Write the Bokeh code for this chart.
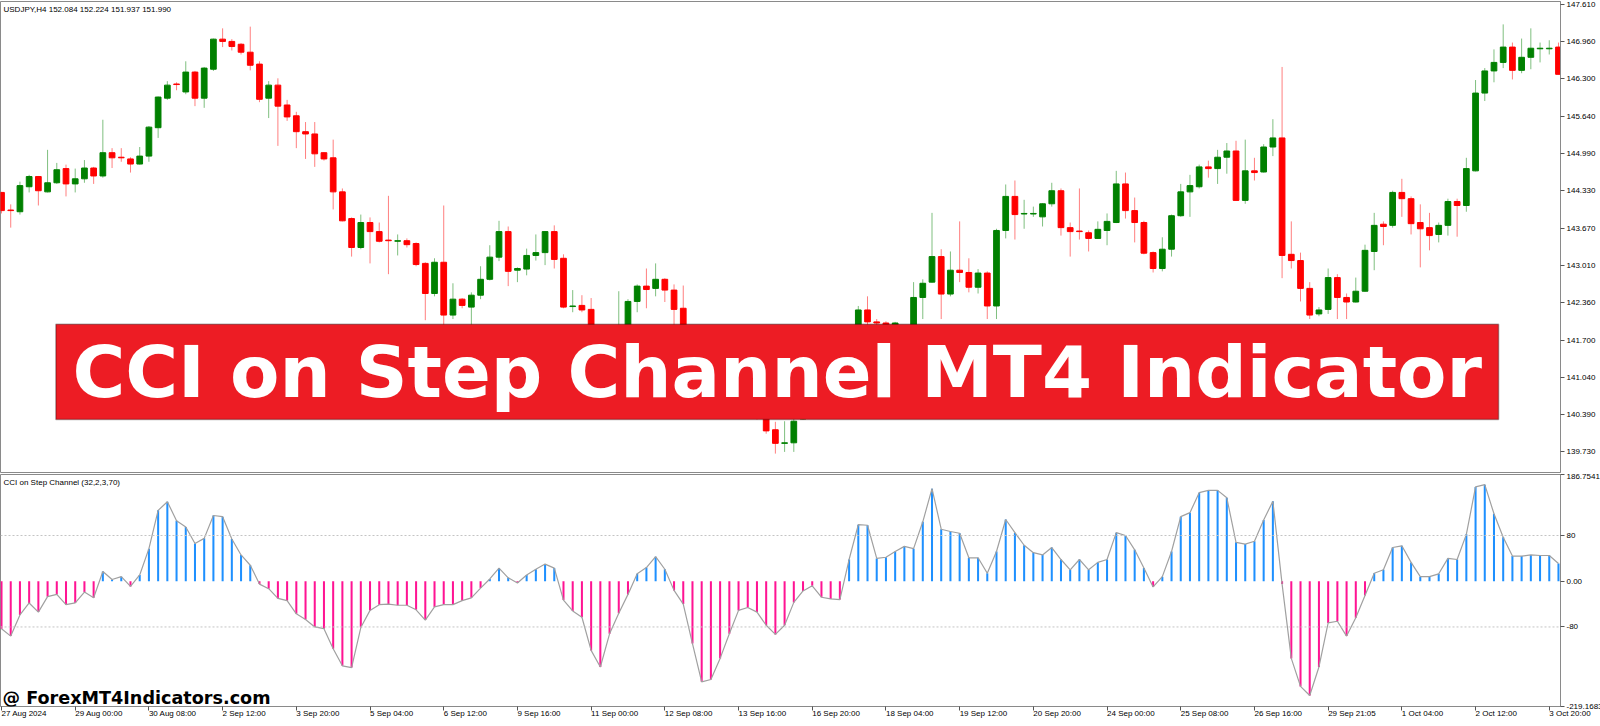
from bokeh.embed import file_html
from bokeh.layouts import column
from bokeh.models import (BoxAnnotation, ColumnDataSource, FixedTicker, Label,
                          NumeralTickFormatter, Range1d, Span)
from bokeh.plotting import figure
from bokeh.resources import INLINE

# USDJPY H4 candles, one per bar index
opens = [144.30, 143.99, 143.96, 144.40, 144.58, 144.31, 144.47, 144.72, 144.45, 144.54,
         144.73, 144.59, 145.00, 144.92, 144.89, 144.80, 144.94, 145.44, 145.96, 146.21,
         146.07, 146.42, 145.96, 146.47, 147.00, 146.96, 146.91, 146.77, 146.56, 145.96,
         146.19, 145.84, 145.65, 145.37, 145.33, 145.00, 144.91, 144.31, 143.84, 143.33,
         143.77, 143.61, 143.46, 143.44, 143.45, 143.40, 143.05, 142.52, 143.07, 142.14,
         142.42, 142.28, 142.49, 142.77, 143.16, 143.61, 142.93, 142.95, 143.19, 143.24,
         143.61, 143.14, 142.29, 142.31, 142.24, 141.63, 141.33, 141.54, 141.89, 142.38,
         142.65, 142.61, 142.77, 142.58, 142.26, 141.81, 141.54, 141.16, 140.81, 141.02,
         140.70, 140.53, 140.67, 140.46, 140.12, 139.88, 139.89, 140.31, 140.70, 141.10,
         140.93, 141.37, 141.72, 141.89, 142.23, 142.02, 142.00, 141.86, 141.82, 141.93,
         142.45, 142.72, 143.17, 142.51, 142.93, 142.89, 142.63, 142.88, 142.30, 143.63,
         144.23, 143.92, 143.92, 143.87, 144.10, 144.33, 143.68, 143.62, 143.59, 143.49,
         143.63, 143.77, 144.45, 143.98, 143.77, 143.24, 142.96, 143.30, 143.89, 144.31,
         144.40, 144.75, 144.72, 144.92, 145.03, 144.16, 144.68, 144.66, 145.10, 145.26,
         143.21, 143.10, 142.61, 142.16, 142.24, 142.80, 142.45, 142.37, 142.56, 143.26,
         143.74, 143.72, 144.30, 144.19, 143.77, 143.68, 143.56, 143.72, 144.14, 144.07,
         144.68, 146.05, 146.44, 146.59, 146.86, 146.45, 146.68, 146.83, 146.83, 146.86]
highs = [144.31, 144.09, 144.49, 144.61, 144.59, 145.05, 144.82, 144.79, 144.72, 144.87,
         144.75, 145.58, 145.08, 145.08, 144.92, 145.10, 145.47, 145.99, 146.26, 146.24,
         146.61, 146.44, 146.51, 147.01, 147.19, 147.00, 146.93, 147.22, 146.61, 146.26,
         146.31, 145.93, 145.72, 145.54, 145.54, 145.01, 145.23, 144.37, 143.86, 143.91,
         143.86, 143.77, 144.24, 143.56, 143.49, 143.42, 143.07, 143.14, 144.07, 142.70,
         142.44, 142.54, 143.00, 143.37, 143.80, 143.70, 142.98, 143.31, 143.56, 143.62,
         143.72, 143.21, 142.58, 142.49, 142.44, 141.72, 141.81, 142.56, 142.42, 142.68,
         142.96, 143.05, 142.79, 142.68, 142.66, 141.89, 141.63, 141.26, 141.10, 141.09,
         140.81, 140.74, 140.70, 140.49, 140.26, 140.27, 140.35, 140.75, 141.19, 141.23,
         141.45, 141.86, 141.93, 142.30, 142.47, 142.07, 142.03, 142.02, 141.95, 142.72,
         142.77, 143.94, 143.30, 143.26, 143.79, 143.14, 142.95, 142.91, 143.66, 144.44,
         144.51, 144.17, 144.05, 144.11, 144.47, 144.37, 143.77, 144.37, 143.63, 143.79,
         143.93, 144.68, 144.65, 144.21, 143.80, 143.26, 143.51, 143.91, 144.45, 144.61,
         144.79, 144.86, 145.05, 145.17, 145.21, 145.23, 144.91, 145.15, 145.59, 146.51,
         143.79, 143.24, 142.72, 142.28, 142.96, 142.86, 142.52, 142.80, 143.38, 143.94,
         143.79, 144.33, 144.54, 144.23, 144.09, 143.94, 143.77, 144.19, 144.19, 144.91,
         146.28, 146.49, 146.82, 147.26, 146.94, 147.01, 147.19, 146.94, 146.98, 146.94]
lows = [143.93, 143.68, 143.91, 144.30, 144.07, 144.30, 144.45, 144.23, 144.30, 144.47,
        144.45, 144.56, 144.73, 144.84, 144.65, 144.79, 144.84, 145.26, 145.93, 146.10,
        146.03, 145.82, 145.79, 146.44, 146.86, 146.80, 146.73, 146.45, 145.89, 145.61,
        145.12, 145.56, 145.08, 144.89, 144.75, 144.86, 144.00, 143.79, 143.17, 143.30,
        143.05, 143.42, 142.86, 143.19, 143.33, 143.00, 142.05, 142.47, 141.95, 142.07,
        142.26, 141.95, 142.42, 142.75, 143.09, 142.65, 142.72, 142.84, 143.10, 143.02,
        142.96, 142.26, 142.19, 142.19, 141.54, 141.19, 141.26, 141.45, 141.82, 142.19,
        142.26, 142.47, 142.37, 141.95, 141.72, 141.40, 141.05, 140.70, 140.67, 140.58,
        140.42, 140.40, 140.30, 140.05, 139.70, 139.73, 139.73, 140.30, 140.63, 140.84,
        140.88, 141.28, 141.63, 141.81, 141.93, 141.89, 141.72, 141.75, 141.72, 141.86,
        142.07, 142.71, 142.07, 142.47, 142.72, 142.54, 142.52, 142.07, 142.07, 143.49,
        143.47, 143.66, 143.87, 143.70, 144.05, 143.54, 143.17, 143.47, 143.26, 143.48,
        143.37, 143.76, 143.84, 143.42, 143.21, 142.89, 142.91, 143.17, 143.87, 143.87,
        144.37, 144.56, 144.45, 144.63, 144.15, 144.10, 144.51, 144.65, 144.94, 142.79,
        142.96, 142.38, 142.07, 142.12, 142.16, 142.07, 142.07, 142.36, 142.55, 142.93,
        143.37, 143.68, 143.87, 143.56, 142.98, 143.28, 143.42, 143.54, 143.52, 143.96,
        144.67, 145.91, 146.24, 146.49, 146.29, 146.40, 146.47, 146.59, 146.73, 146.38]
closes = [143.98, 143.98, 144.42, 144.58, 144.33, 144.47, 144.70, 144.45, 144.54, 144.73,
          144.59, 145.00, 144.91, 144.91, 144.80, 144.94, 145.45, 145.98, 146.19, 146.20,
          146.42, 145.96, 146.49, 147.00, 146.96, 146.87, 146.77, 146.54, 145.94, 146.19,
          145.82, 145.63, 145.37, 145.33, 144.98, 144.89, 144.31, 143.80, 143.33, 143.77,
          143.61, 143.44, 143.45, 143.45, 143.38, 143.03, 142.52, 143.07, 142.14, 142.42,
          142.31, 142.49, 142.77, 143.16, 143.61, 142.91, 142.96, 143.19, 143.24, 143.61,
          143.12, 142.28, 142.30, 142.23, 141.63, 141.33, 141.72, 141.93, 142.38, 142.65,
          142.59, 142.77, 142.58, 142.24, 141.81, 141.54, 141.16, 140.81, 141.02, 140.70,
          140.53, 140.67, 140.35, 140.10, 139.88, 139.89, 140.27, 140.70, 141.10, 140.93,
          141.37, 141.72, 141.89, 142.23, 142.02, 142.00, 141.81, 142.00, 141.93, 142.45,
          142.70, 143.17, 142.51, 142.93, 142.89, 142.63, 142.88, 142.30, 143.63, 144.23,
          143.91, 143.93, 143.93, 144.10, 144.33, 143.68, 143.61, 143.61, 143.49, 143.65,
          143.79, 144.45, 143.98, 143.77, 143.23, 142.96, 143.30, 143.89, 144.31, 144.42,
          144.75, 144.72, 144.92, 145.03, 144.16, 144.68, 144.65, 145.10, 145.26, 143.19,
          143.10, 142.61, 142.14, 142.23, 142.80, 142.45, 142.37, 142.56, 143.28, 143.72,
          143.70, 144.30, 144.19, 143.75, 143.66, 143.54, 143.72, 144.14, 144.07, 144.72,
          146.05, 146.44, 146.59, 146.86, 146.45, 146.68, 146.84, 146.84, 146.84, 146.38]

# CCI on Step Channel (32,2,3,70)
cci = [-83, -96, -59, -38, -54, -27, -23, -41, -38, -19,
       -29, 17, 3, 8, -9, 11, 57, 124, 139, 106,
       95, 66, 75, 115, 113, 74, 46, 28, -5, -13,
       -30, -34, -57, -67, -80, -83, -118, -148, -151, -81,
       -51, -41, -40, -42, -42, -50, -68, -45, -41, -41,
       -34, -29, -12, 4, 23, 6, -3, 11, 21, 30,
       23, -33, -52, -63, -121, -150, -92, -56, -23, 13,
       24, 43, 21, -16, -40, -109, -176, -172, -135, -92,
       -51, -46, -54, -77, -93, -77, -37, -17, -8, -28,
       -31, -32, 38, 99, 98, 40, 42, 52, 61, 57,
       104, 162, 91, 87, 84, 41, 41, 14, 52, 108,
       85, 63, 50, 46, 59, 38, 20, 38, 20, 33,
       38, 85, 80, 55, 23, -10, 8, 52, 113, 120,
       155, 159, 159, 146, 68, 65, 70, 107, 140, -5,
       -135, -184, -200, -150, -73, -70, -96, -64, -25, 14,
       20, 59, 62, 33, 8, 8, 13, 40, 38, 82,
       165, 169, 118, 77, 44, 44, 46, 45, 45, 31]

price_ticks = [147.610, 146.960, 146.300, 145.640, 144.990, 144.330, 143.670,
               143.010, 142.360, 141.700, 141.040, 140.390, 139.730]
cci_ticks = [186.7541, 80, 0, -80, -219.1683]
cci_tick_labels = ["186.7541", "80", "0.00", "-80", "-219.1683"]
cci_levels = [80, -80]

time_ticks = list(range(0, 170, 8))
time_labels = ["27 Aug 2024", "29 Aug 00:00", "30 Aug 08:00", "2 Sep 12:00", "3 Sep 20:00",
               "5 Sep 04:00", "6 Sep 12:00", "9 Sep 16:00", "11 Sep 00:00", "12 Sep 08:00",
               "13 Sep 16:00", "16 Sep 20:00", "18 Sep 04:00", "19 Sep 12:00", "20 Sep 20:00",
               "24 Sep 00:00", "25 Sep 08:00", "26 Sep 16:00", "29 Sep 21:05", "1 Oct 04:00",
               "2 Oct 12:00", "3 Oct 20:00"]

FONT = "Liberation Sans"
BIG_FONT = "DejaVu Sans"
UP, DOWN = "#008000", "#FF0000"
CCI_UP, CCI_DOWN = "#1E90FF", "#FF1493"
FRAME_W = 1560

idx = list(range(len(opens)))
candles = ColumnDataSource(dict(
    x=idx, open=opens, high=highs, low=lows, close=closes,
    top=[max(o, c) for o, c in zip(opens, closes)],
    bottom=[min(o, c) for o, c in zip(opens, closes)],
    color=[UP if c >= o else DOWN for o, c in zip(opens, closes)],
))

x_range = Range1d(-0.11, 169.22)

# ---- price pane
p1 = figure(frame_width=FRAME_W, frame_height=471, x_range=x_range,
            y_range=Range1d(139.367, 147.663), toolbar_location=None,
            output_backend="svg", y_axis_location="right", x_axis_location=None,
            min_border_left=0, min_border_right=0, min_border_top=1, min_border_bottom=1)
p1.grid.visible = False
p1.outline_line_color = "#8a8a8a"
p1.segment(x0="x", y0="low", x1="x", y1="high", source=candles,
           line_color="color", line_alpha=0.5, line_width=1)
p1.vbar(x="x", top="top", bottom="bottom", width=0.62, source=candles,
        fill_color="color", line_color="color", line_width=1)

ya = p1.yaxis[0]
ya.ticker = FixedTicker(ticks=price_ticks)
ya.formatter = NumeralTickFormatter(format="0.000")

p1.add_layout(Label(x=-0.11, y=147.663, x_offset=3, y_offset=-3,
                    text="USDJPY,H4  152.084 152.224 151.937 151.990",
                    text_font=FONT, text_font_size="8px", text_baseline="top",
                    text_color="black"))

# banner
p1.add_layout(BoxAnnotation(left=5.9, right=162.5, top=141.98, bottom=140.30,
                            fill_color="#ED1C24", fill_alpha=1.0,
                            line_color="black", line_width=1.5))
p1.add_layout(Label(x=84.2, y=141.13, text="CCI on Step Channel MT4 Indicator",
                    text_font=BIG_FONT, text_font_size="72px", text_font_style="bold",
                    text_color="white", text_align="center", text_baseline="middle"))

# ---- CCI pane
cci_src = ColumnDataSource(dict(
    x=idx, v=cci,
    top=[max(v, 0) for v in cci], bottom=[min(v, 0) for v in cci],
    color=[CCI_UP if v >= 0 else CCI_DOWN for v in cci],
))
p2 = figure(frame_width=FRAME_W, frame_height=232, x_range=x_range,
            y_range=Range1d(-219.1683, 186.7541), toolbar_location=None,
            output_backend="svg", y_axis_location="right",
            min_border_left=0, min_border_right=0, min_border_top=1, min_border_bottom=16)
p2.grid.visible = False
p2.outline_line_color = "#8a8a8a"
for lv in cci_levels:
    p2.add_layout(Span(location=lv, dimension="width", line_color="#c4c4c4",
                       line_dash="2 2", line_width=1))
p2.vbar(x="x", top="top", bottom="bottom", width=0.22, source=cci_src,
        fill_color="color", line_color=None)
p2.line(x="x", y="v", source=cci_src, line_color="#a0a0a0", line_width=1.2)

ya2 = p2.yaxis[0]
ya2.ticker = FixedTicker(ticks=cci_ticks)
ya2.major_label_overrides = dict(zip(cci_ticks, cci_tick_labels))

# time scale: labels start at their tick, as in MT4
xa = p2.xaxis[0]
xa.ticker = FixedTicker(ticks=time_ticks)
xa.major_label_overrides = dict(zip(time_ticks, time_labels))
xa.major_label_orientation = -0.0001
xa.major_tick_out = 4
xa.major_tick_in = 0
xa.minor_tick_line_color = None
xa.axis_line_color = "#8a8a8a"
xa.major_tick_line_color = "#555555"
xa.major_label_standoff = 3
xa.major_label_text_font = FONT
xa.major_label_text_font_size = "8px"
xa.major_label_text_color = "black"

p2.add_layout(Label(x=-0.11, y=186.7541, x_offset=3, y_offset=-3,
                    text="CCI on Step Channel (32,2,3,70)",
                    text_font=FONT, text_font_size="8px", text_baseline="top",
                    text_color="black"))
p2.add_layout(Label(x=-0.11, y=-205.0, x_offset=2, text="@ ForexMT4Indicators.com",
                    text_font=BIG_FONT, text_font_size="17.6px", text_font_style="bold",
                    text_color="black", text_baseline="middle"))

for ax in (ya, ya2):
    ax.major_tick_out = 4
    ax.major_tick_in = 0
    ax.minor_tick_line_color = None
    ax.axis_line_color = "#8a8a8a"
    ax.major_tick_line_color = "#555555"
    ax.major_label_standoff = 2
    ax.major_label_text_font = FONT
    ax.major_label_text_font_size = "8px"
    ax.major_label_text_color = "black"

layout = column(p1, p2)
open("out.html", "w").write(file_html(layout, INLINE))
